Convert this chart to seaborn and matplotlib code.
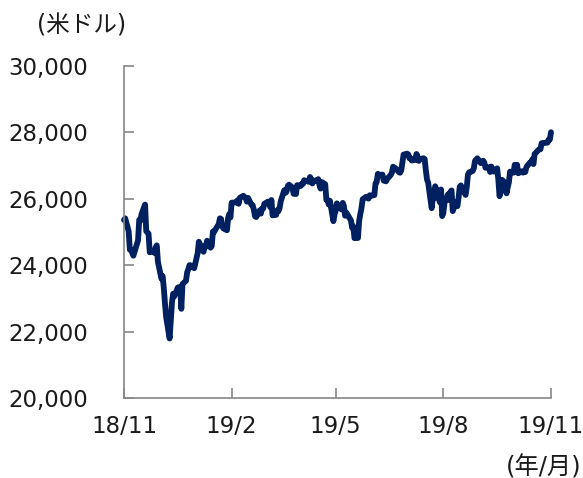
import pandas as pd
import matplotlib
matplotlib.use("Agg")
import matplotlib.pyplot as plt
import seaborn as sns

# Dow close, trading days 2018-11-15 .. 2019-11-15
nov18 = [25360, 25413, 25017, 24465, 24464, 24286, 24640, 24748, 25366, 25338, 25538]
dec18 = [25826, 25027, 24947, 24389, 24423, 24370, 24527, 24597, 24101, 23592,
         23675, 23323, 22859, 22445, 21792, 22878, 23139, 23062, 23327]
jan19 = [23346, 22686, 23433, 23531, 23787, 23879, 24001, 23996, 23910, 24066, 24207,
         24370, 24706, 24404, 24575, 24553, 24737, 24528, 24579, 25015, 24999]
feb19 = [25064, 25239, 25411, 25391, 25169, 25106, 25053, 25425, 25543, 25439,
         25883, 25891, 25954, 25850, 26031, 26091, 26057, 26029, 25916]
mar19 = [26026, 25819, 25806, 25673, 25473, 25450, 25650, 25554, 25702, 25709, 25849,
         25914, 25887, 25746, 25963, 25502, 25516, 25658, 25626, 25717, 25929]
apr19 = [26258, 26180, 26218, 26385, 26425, 26341, 26151, 26157, 26143, 26412, 26385,
         26453, 26450, 26560, 26512, 26656, 26598, 26462, 26543, 26555, 26593]
may19 = [26430, 26308, 26505, 26439, 25965, 25968, 25828, 25942, 25325, 25532, 25648,
         25863, 25764, 25680, 25877, 25777, 25490, 25586, 25348, 25126, 25170, 24815]
jun19 = [24820, 25332, 25540, 25720, 25984, 26062, 26048, 26005, 26107, 26090,
         26112, 26465, 26504, 26753, 26720, 26727, 26548, 26537, 26527, 26600]
jul19 = [26718, 26787, 26966, 26922, 26806, 26784, 26860, 27088, 27332, 27359, 27336,
         27220, 27223, 27154, 27172, 27350, 27270, 27141, 27192, 27222, 27199, 26864]
aug19 = [26583, 26485, 25718, 26030, 26008, 26378, 26287, 25897, 26280, 25479, 25579,
         25886, 26136, 25962, 26202, 26252, 25629, 25899, 25778, 26036, 26363, 26403]
sep19 = [26118, 26355, 26728, 26797, 26835, 26909, 27137, 27182, 27220, 27076,
         27111, 27147, 27095, 26935, 26950, 26808, 26971, 26891, 26820, 26917]
oct19 = [26573, 26079, 26202, 26573, 26478, 26165, 26347, 26497, 26817, 26787, 27025, 27002,
         27026, 26770, 26828, 26788, 26834, 26806, 26958, 27091, 27071, 27186, 27046]
nov19 = [27347, 27462, 27493, 27493, 27675, 27681, 27691, 27691, 27784, 27783, 28005]

holidays = ["2018-11-22", "2018-12-05", "2018-12-25", "2019-01-01", "2019-01-21",
            "2019-02-18", "2019-04-19", "2019-05-27", "2019-07-04", "2019-09-02"]

tick_dates = ["2018-11-15", "2019-02-15", "2019-05-15", "2019-08-15", "2019-11-15"]
tick_labels = ["18/11", "19/2", "19/5", "19/8", "19/11"]
y_ticks = [20000, 22000, 24000, 26000, 28000, 30000]

close = nov18 + dec18 + jan19 + feb19 + mar19 + apr19 + may19 + jun19 + jul19 + aug19 + sep19 + oct19 + nov19
dates = pd.bdate_range("2018-11-15", "2019-11-15", freq="C", holidays=holidays)
n = min(len(dates), len(close))
df = pd.DataFrame({"date": dates[:n], "close": close[:n]})

sns.set_style("ticks")
plt.rcParams["font.family"] = ["DejaVu Sans", "Noto Sans CJK JP"]

fig = plt.figure(figsize=(5.83, 4.78), dpi=100)
ax = fig.add_axes([0.2127, 0.1674, 0.9451 - 0.2127, 0.8619 - 0.1674])

sns.lineplot(data=df, x="date", y="close", ax=ax, color="#002060", linewidth=4.2)
for l in ax.lines:
    l.set_clip_on(False)
    l.set_solid_joinstyle("round")
    l.set_solid_capstyle("round")

ax.set_xlim(pd.Timestamp(tick_dates[0]), pd.Timestamp(tick_dates[-1]))
ax.set_ylim(20000, 30000)
ax.set_xticks(pd.to_datetime(tick_dates))
ax.set_xticklabels(tick_labels)
ax.set_yticks(y_ticks)
ax.set_yticklabels([f"{v:,}" for v in y_ticks])
ax.set_xlabel("")
ax.set_ylabel("")

for s in ["top", "right"]:
    ax.spines[s].set_visible(False)
for s in ["left", "bottom"]:
    ax.spines[s].set_color("#868686")
    ax.spines[s].set_linewidth(1.2)
ax.tick_params(axis="both", direction="in", color="#868686", width=1.2, length=7,
               labelsize=16.5, labelcolor="#1a1a1a")
ax.tick_params(axis="y", pad=26)
ax.tick_params(axis="x", pad=12)

fig.text(37 / 583, 1 - 25 / 478, "(米ドル)", fontsize=17, ha="left", va="center", color="#1a1a1a")
fig.text(581 / 583, 1 - 467 / 478, "(年/月)", fontsize=17.5, ha="right", va="center", color="#1a1a1a")

fig.savefig("out.png", dpi=100)
